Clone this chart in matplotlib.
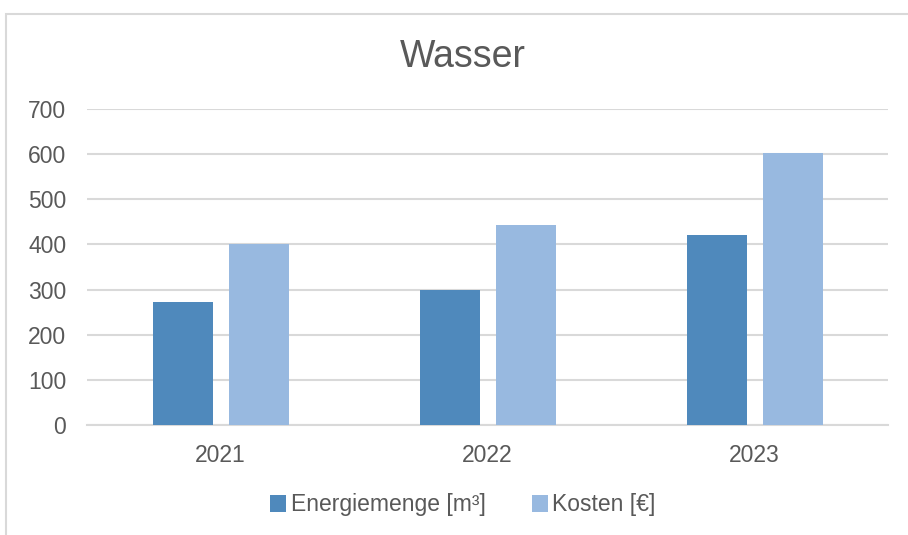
import numpy as np
import matplotlib.pyplot as plt
from matplotlib.patches import Rectangle

plt.rcParams['font.family'] = ['Liberation Sans', 'DejaVu Sans']

years = ['2021', '2022', '2023']
energiemenge = [272, 300, 420]
kosten = [400, 442, 603]

text_color = '#595959'
grid_color = '#D9D9D9'

fig = plt.figure(figsize=(9.08, 5.35), dpi=100)
ax = fig.add_axes([87 / 908, 110 / 535, 801 / 908, 316 / 535])

# chart frame (cut off at right and bottom like the screenshot)
fig.patches.append(Rectangle((5.5 / 908, -0.05), 1.1, (535 - 13.5) / 535 + 0.05,
                             transform=fig.transFigure, fill=False,
                             edgecolor=grid_color, linewidth=1.5))

x = np.arange(len(years))
w = 0.225
ax.bar(x - 0.142, energiemenge, w, color='#4F89BC', label='Energiemenge [m³]', zorder=3)
ax.bar(x + 0.145, kosten, w, color='#98B9E0', label='Kosten [€]', zorder=3)

ax.set_xlim(-0.5, 2.5)
ax.set_ylim(0, 700)
ax.set_yticks(range(0, 701, 100))
ax.set_xticks(x)
ax.set_xticklabels(years)
ax.grid(axis='y', color=grid_color, linewidth=1.5, zorder=0)
for s in ['top', 'right', 'left']:
    ax.spines[s].set_visible(False)
ax.spines['bottom'].set_color(grid_color)
ax.spines['bottom'].set_linewidth(1.5)
ax.tick_params(axis='both', length=0, labelsize=16.5, labelcolor=text_color)
ax.tick_params(axis='y', pad=15)
ax.tick_params(axis='x', pad=14)

fig.text(463 / 908, 1 - 57 / 535, 'Wasser', ha='center', va='center',
         fontsize=27, color=text_color)

fig.legend(loc='center', bbox_to_anchor=(463 / 908, 1 - 505 / 535), ncol=2,
           frameon=False, fontsize=16.5, labelcolor=text_color,
           handlelength=0.7, handleheight=0.7, handletextpad=0.2, columnspacing=2.0)

fig.savefig('out.png', dpi=100)
